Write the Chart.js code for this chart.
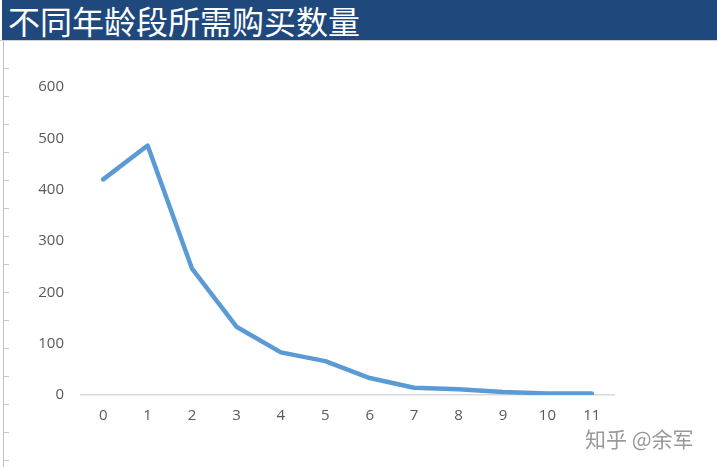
<!DOCTYPE html>
<html>
<head>
<meta charset="utf-8">
<script src="https://cdn.jsdelivr.net/npm/chart.js@4/dist/chart.umd.min.js"></script>
<style>
  html, body { margin: 0; padding: 0; background: #fff; }
  #page { position: relative; width: 717px; height: 467px; overflow: hidden; background: #fff; }
  #title {
    position: absolute; left: 2px; top: 0; width: 715px; height: 40px;
    background: #1f497d; color: #fff;
    font-family: "Noto Sans CJK SC", sans-serif; font-size: 32px; line-height: 40px;
    padding-left: 6px; box-sizing: border-box; white-space: nowrap;
  }
  #titleLine { position: absolute; left: 0; top: 40px; width: 717px; height: 1px; background: #d0d0d0; }
  #rows {
    position: absolute; left: 3px; top: 41px; width: 5px; height: 426px;
    border-left: 1px solid #c0c0c0;
    background: repeating-linear-gradient(to bottom, transparent 0px, transparent 27px, #c8c8c8 27px, #c8c8c8 28px);
  }
  #wrap { position: absolute; left: 0; top: 41px; width: 717px; height: 426px; }
  #mark {
    position: absolute; left: 585px; top: 423px;
    font-family: "Noto Sans CJK SC", sans-serif; font-size: 21px; color: #999;
    white-space: nowrap;
  }
</style>
</head>
<body>
<div id="page">
  <div id="title">不同年龄段所需购买数量</div>
  <div id="titleLine"></div>
  <div id="rows"></div>
  <div id="wrap"><canvas id="mychart"></canvas></div>
  <div id="mark">知乎 @余军</div>
</div>
<script>
// 年龄段
const ageLabels = ['0', '1', '2', '3', '4', '5', '6', '7', '8', '9', '10', '11'];
// 所需购买数量
const buyCounts = [420, 486, 246, 133, 83, 66, 33, 14, 11, 6, 3, 3];
// 纵轴刻度
const yTicks = [0, 100, 200, 300, 400, 500, 600];

document.addEventListener("DOMContentLoaded", function () {
  const ctx = document.getElementById('mychart').getContext('2d');
  const tickFont = { family: '"Open Sans", "Noto Sans", sans-serif', size: 15 };

  new Chart(ctx, {
    type: 'line',
    data: {
      labels: ageLabels,
      datasets: [{
        data: buyCounts,
        borderColor: '#5b9bd5',
        borderWidth: 4.5,
        borderCapStyle: 'round',
        borderJoinStyle: 'round',
        pointRadius: 0,
        tension: 0,
        fill: false
      }]
    },
    options: {
      responsive: true,
      maintainAspectRatio: false,
      animation: false,
      layout: { padding: { top: 46, right: 103, left: 0, bottom: 0 } },
      plugins: { legend: { display: false }, tooltip: { enabled: false } },
      scales: {
        x: {
          offset: true,
          grid: { display: false, drawTicks: false },
          border: { display: true, color: '#d9d9d9', width: 1.5 },
          ticks: { color: '#595959', font: tickFont, padding: 12, maxRotation: 0 },
          afterFit: function (scale) { scale.height = 72; }
        },
        y: {
          min: 0,
          max: 600,
          grid: { display: false, drawTicks: false },
          border: { display: false },
          ticks: { color: '#595959', font: tickFont, padding: 17, stepSize: 100 },
          afterBuildTicks: function (scale) {
            scale.ticks = yTicks.map(v => ({ value: v }));
          },
          afterFit: function (scale) { scale.width = 81; }
        }
      }
    }
  });
});
</script>
</body>
</html>
